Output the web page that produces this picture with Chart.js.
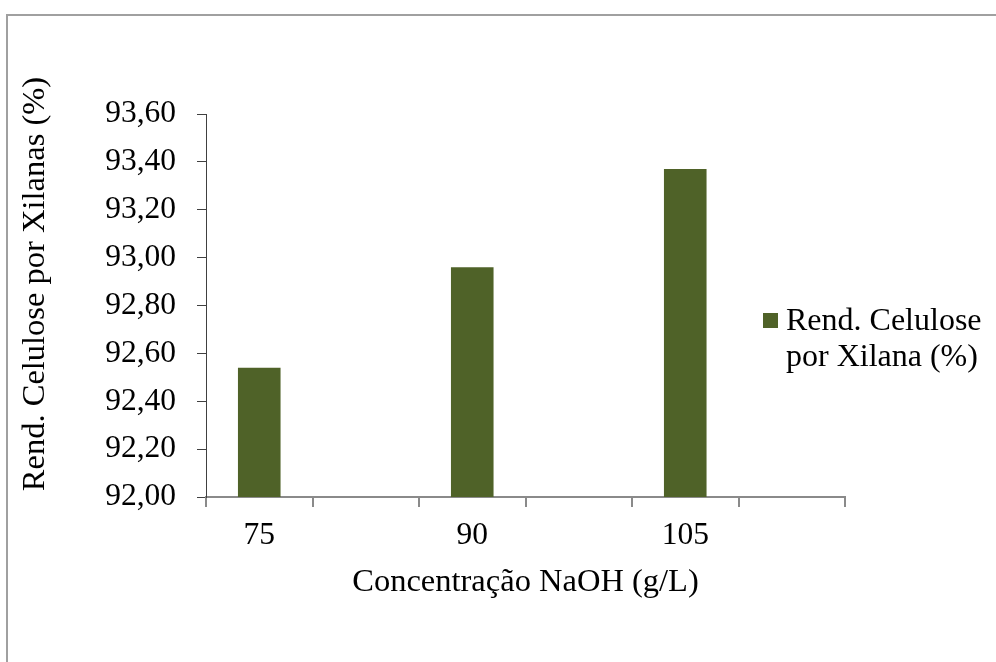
<!DOCTYPE html>
<html>
<head>
<meta charset="utf-8">
<script src="https://cdn.jsdelivr.net/npm/chart.js@4"></script>
<style>
  body { margin: 0; background: #fff; }
  canvas { display: block; }
</style>
</head>
<body>
<canvas id="myChart" width="996" height="662"></canvas>
<script>
// categories (empty rows in the sheet give the blank slots)
const categories = ['75', '', '90', '', '105', ''];
const rendimento = [92.54, null, 92.96, null, 93.37, null];
const serieLabel = ['Rend. Celulose', 'por Xilana (%)'];
const yTitle = 'Rend. Celulose por Xilanas (%)';
const xTitle = 'Concentração NaOH (g/L)';

const font = 'Liberation Serif';

// frame, y title and legend drawn by hand (excel style)
const frameAndLegend = {
  id: 'frameAndLegend',
  beforeDraw(chart) {
    const ctx = chart.ctx;
    ctx.save();
    ctx.fillStyle = '#fff';
    ctx.fillRect(0, 0, chart.width, chart.height);
    ctx.strokeStyle = '#a0a0a0';
    ctx.lineWidth = 2;
    ctx.strokeRect(7, 15, chart.width + 20, chart.height + 20);
    ctx.restore();
  },
  afterDraw(chart) {
    const ctx = chart.ctx;
    ctx.save();
    // legend
    ctx.fillStyle = '#4F6228';
    ctx.fillRect(763, 313, 15, 15);
    ctx.fillStyle = '#000';
    ctx.font = '32px "' + font + '"';
    ctx.textBaseline = 'alphabetic';
    ctx.textAlign = 'left';
    ctx.fillText(serieLabel[0], 786, 330);
    ctx.fillText(serieLabel[1], 786, 366);
    // y axis title
    ctx.translate(35, 284);
    ctx.rotate(-Math.PI / 2);
    ctx.textAlign = 'center';
    ctx.textBaseline = 'middle';
    ctx.font = '32.5px "' + font + '"';
    ctx.fillText(yTitle, 0, 0);
    ctx.restore();
  }
};

const data = {
  labels: categories,
  datasets: [{
    label: serieLabel.join(' '),
    data: rendimento,
    backgroundColor: '#4F6228',
    borderWidth: 0,
    categoryPercentage: 1,
    barPercentage: 0.4
  }]
};

const config = {
  type: 'bar',
  data,
  options: {
    responsive: false,
    animation: false,
    layout: {
      padding: { left: 0, top: 114, right: 151, bottom: 0 }
    },
    plugins: {
      legend: { display: false },
      tooltip: { enabled: false }
    },
    scales: {
      x: {
        offset: true,
        afterFit: (s) => { s.height = 165; },
        grid: {
          offset: true,
          drawOnChartArea: false,
          drawTicks: true,
          tickLength: 10,
          color: '#8a8a8a',
          lineWidth: 2
        },
        border: { color: '#8a8a8a', width: 2 },
        ticks: {
          autoSkip: false,
          maxRotation: 0,
          padding: 10,
          color: '#000',
          font: { family: font, size: 31.5 }
        },
        title: {
          display: true,
          text: xTitle,
          color: '#000',
          font: { family: font, size: 32.5 },
          padding: { top: 0, bottom: 60 }
        }
      },
      y: {
        min: 92,
        max: 93.6,
        afterFit: (s) => { s.width = 206; },
        grid: {
          drawOnChartArea: false,
          drawTicks: true,
          tickLength: 9,
          color: '#404040',
          lineWidth: 1
        },
        border: { color: '#404040', width: 1 },
        ticks: {
          stepSize: 0.2,
          padding: 21,
          color: '#000',
          font: { family: font, size: 31.5 },
          callback: (v) => Number(v).toFixed(2).replace('.', ',')
        },
        title: { display: false }
      }
    }
  },
  plugins: [frameAndLegend]
};

const myChart = new Chart(
  document.getElementById('myChart').getContext('2d'),
  config
);
</script>
</body>
</html>
